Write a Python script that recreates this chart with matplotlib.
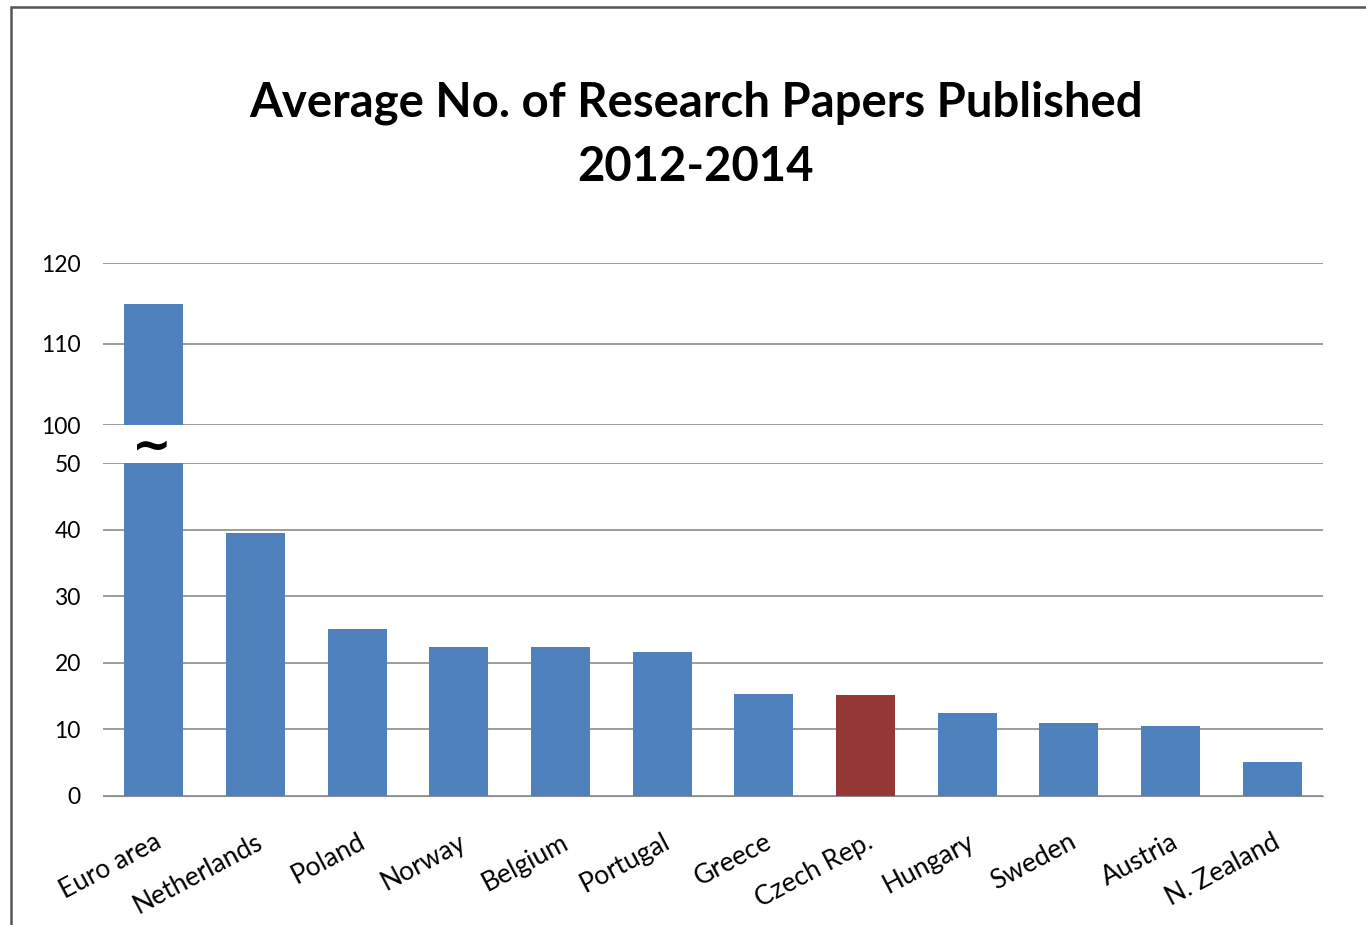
import numpy as np
import matplotlib.pyplot as plt
from matplotlib.patches import Rectangle

countries = ["Euro area", "Netherlands", "Poland", "Norway", "Belgium", "Portugal",
             "Greece", "Czech Rep.", "Hungary", "Sweden", "Austria", "N. Zealand"]
papers = [115.0, 39.5, 25.1, 22.4, 22.4, 21.6, 15.3, 15.2, 12.5, 11.0, 10.5, 5.1]
highlight = "Czech Rep."

top_ticks = [100, 110, 120]
bottom_ticks = [0, 10, 20, 30, 40, 50]

BLUE = "#4F81BD"
RED = "#953735"
GRID = "#8c8c8c"

plt.rcParams["font.family"] = ["Lato", "DejaVu Sans"]

W, H = 1366, 925
fig = plt.figure(figsize=(W / 100, H / 100), dpi=100)

# outer frame of the chart area
fig.patches.append(Rectangle((11 / W, -0.1), 2, 1.1 - 7 / H, transform=fig.transFigure,
                             fill=False, edgecolor="#555555", linewidth=1.8))

left, width = 103 / W, 1220 / W
ax_top = fig.add_axes([left, 1 - 425 / H, width, (425 - 263) / H])
ax_bot = fig.add_axes([left, 1 - 796 / H, width, (796 - 463) / H])

x = np.arange(len(countries))
colors = [RED if c == highlight else BLUE for c in countries]

for ax, lo, hi, ticks in [(ax_top, 100, 120, top_ticks), (ax_bot, 0, 50, bottom_ticks)]:
    ax.set_axisbelow(True)
    ax.bar(x, papers, width=0.58, color=colors, zorder=2)
    ax.set_ylim(lo, hi)
    ax.set_xlim(-0.5, len(countries) - 0.5)
    ax.set_yticks(ticks)
    ax.yaxis.grid(True, color=GRID, linewidth=1.2)
    ax.tick_params(axis="y", length=0, pad=16, labelsize=16.5)
    for s in ax.spines.values():
        s.set_visible(False)
    ax.set_facecolor("none")

ax_top.tick_params(axis="x", bottom=False, labelbottom=False)
ax_bot.spines["bottom"].set_visible(True)
ax_bot.spines["bottom"].set_color(GRID)
ax_bot.set_xticks(x)
ax_bot.set_xticklabels(countries, rotation=28, ha="right", rotation_mode="anchor",
                       fontsize=19)
ax_bot.tick_params(axis="x", length=0, pad=24)

# axis break marker
fig.text(152 / W, 1 - 447 / H, "~", fontsize=34, fontweight="bold",
         ha="center", va="center", family="DejaVu Sans")

fig.text(0.5095, 1 - 103 / H, "Average No. of Research Papers Published",
         ha="center", va="center", fontsize=34, fontweight="bold")
fig.text(0.5095, 1 - 167 / H, "2012-2014",
         ha="center", va="center", fontsize=34, fontweight="bold")

fig.savefig("out.png", dpi=100)
